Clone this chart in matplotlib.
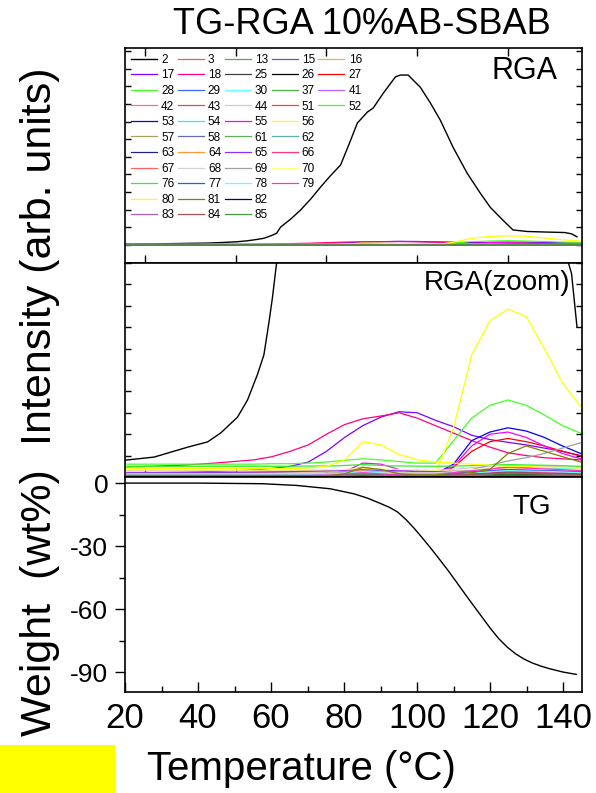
import matplotlib
matplotlib.use('Agg')
import matplotlib.pyplot as plt
from matplotlib.lines import Line2D
from matplotlib.patches import Rectangle
from matplotlib.ticker import MultipleLocator

plt.rcParams['font.family'] = ['Liberation Sans', 'DejaVu Sans']
plt.rcParams['axes.unicode_minus'] = False

# Legend order (mass numbers), row by row as in the original legend
legend_rows = [[2, 3, 13, 15, 16], [17, 18, 25, 26, 27], [28, 29, 30, 37, 41],
               [42, 43, 44, 51, 52], [53, 54, 55, 56], [57, 58, 61, 62],
               [63, 64, 65, 66], [67, 68, 69, 70], [76, 77, 78, 79],
               [80, 81, 82], [83, 84, 85]]

masses = [2, 3, 13, 15, 16, 17, 18, 25, 26, 27, 28, 29, 30, 37, 41, 42, 43, 44,
          51, 52, 53, 54, 55, 56, 57, 58, 61, 62, 63, 64, 65, 66, 67, 68, 69, 70,
          76, 77, 78, 79, 80, 81, 82, 83, 84, 85]
colors = ['#000000', '#f05a5a', '#4caf4c', '#5a5ac8', '#f5a85a', '#8000ff',
          '#ff0080', '#404040', '#000000', '#ff0000', '#44ff22', '#4060ff',
          '#66ffff', '#4caf4c', '#b066ff', '#ff6699', '#f04848', '#cccccc',
          '#ff4040', '#33ff33', '#0000ff', '#00ffff', '#ff00ff', '#ffff00',
          '#a8a060', '#6a6ab4', '#5cb05c', '#5cb0b0', '#202090', '#ff9933',
          '#8833ff', '#ff3380', '#ff6060', '#d4d4d4', '#a0a0a0', '#ffff80',
          '#33ee33', '#3355ff', '#66ffff', '#ff33cc', '#ffff00', '#808000',
          '#000080', '#b060c0', '#b05050', '#40a040']

# RGA: mass 2 (time axis, min)
t_h2 = [-4.2, 2.0, 9.5, 13.8, 16.7, 20.4, 22.6, 24.8, 26.2, 27.3, 28.1, 29.0,
        29.9, 32.1, 34.3, 36.5, 38.7, 40.9, 43.1, 45.0, 46.8, 49.0, 50.3, 52.5,
        55.2, 56.3, 58.0, 60.7, 62.9, 65.1, 67.9, 71.0, 73.9, 76.1, 78.9, 81.1,
        84.2, 88.6, 92.5, 94.0, 95.2]
m2 = [0.79, 0.93, 1.40, 1.64, 2.06, 2.8, 3.6, 4.8, 5.7, 7.2, 8.4, 10.0,
      15.3, 22, 29.8, 39, 49.3, 59, 68, 86, 103.7, 113, 116.5, 129,
      143, 144.5, 144.5, 134, 120.7, 106, 83, 61, 44, 32, 21, 12.8,
      11.5, 11, 10.6, 9.5, 7.0]

# main fragments on a 4 min grid
t_f = [-4, 0, 4, 8, 12, 16, 20, 24, 28, 32, 36, 40, 44, 48, 52, 56, 60, 64,
       68, 72, 76, 80, 84, 88, 92, 96]
m17 = [0.19, 0.2, 0.21, 0.22, 0.24, 0.27, 0.3, 0.33, 0.4, 0.5, 0.7, 1.2, 1.85,
       2.4, 2.8, 3.05, 3.0, 2.65, 2.35, 1.95, 1.75, 1.62, 1.5, 1.35, 1.2, 1.0]
m18 = [0.47, 0.49, 0.52, 0.55, 0.6, 0.66, 0.73, 0.8, 0.95, 1.2, 1.5, 2.0, 2.45,
       2.72, 2.85, 3.0, 2.75, 2.4, 2.05, 1.7, 1.4, 1.13, 1.0, 0.9, 0.85, 0.8]
m27 = [0.08, 0.08, 0.08, 0.08, 0.08, 0.08, 0.08, 0.08, 0.08, 0.09, 0.1, 0.1,
       0.12, 0.15, 0.12, 0.1, 0.1, 0.1, 0.45, 1.2, 1.65, 1.8, 1.65, 1.45, 1.2, 0.98]
m28 = [0.6, 0.6, 0.6, 0.6, 0.6, 0.6, 0.6, 0.6, 0.62, 0.62, 0.65, 0.7, 0.78,
       0.85, 0.8, 0.72, 0.65, 0.65, 1.7, 2.75, 3.35, 3.6, 3.35, 2.9, 2.4, 2.05]
m53 = [0.1, 0.1, 0.1, 0.1, 0.1, 0.1, 0.1, 0.1, 0.1, 0.1, 0.1, 0.1, 0.12,
       0.15, 0.12, 0.1, 0.1, 0.15, 0.6, 1.7, 2.1, 2.3, 2.15, 1.85, 1.45, 1.1]
m55 = [0.1, 0.1, 0.1, 0.1, 0.1, 0.1, 0.1, 0.1, 0.1, 0.1, 0.1, 0.12, 0.25,
       0.65, 0.6, 0.35, 0.22, 0.2, 0.5, 1.45, 2.0, 2.1, 1.85, 1.45, 1.1, 0.85]
m56 = [0.12, 0.12, 0.12, 0.12, 0.12, 0.12, 0.12, 0.12, 0.12, 0.12, 0.12, 0.12,
       0.12, 0.12, 0.12, 0.12, 0.12, 0.15, 2.3, 5.7, 7.3, 7.85, 7.5, 6.0, 4.4, 3.3]
m69 = [0.1, 0.1, 0.1, 0.1, 0.1, 0.1, 0.1, 0.1, 0.1, 0.1, 0.1, 0.1, 0.1,
       0.12, 0.1, 0.1, 0.1, 0.12, 0.2, 0.35, 0.55, 0.75, 0.9, 1.1, 1.35, 1.6]
m80 = [0.4, 0.4, 0.4, 0.4, 0.4, 0.4, 0.4, 0.4, 0.4, 0.4, 0.42, 0.5, 0.8,
       1.65, 1.5, 1.05, 0.8, 0.7, 0.65, 0.6, 0.55, 0.5, 0.5, 0.45, 0.45, 0.42]
m81 = [0.05, 0.05, 0.05, 0.05, 0.05, 0.05, 0.05, 0.05, 0.05, 0.05, 0.05, 0.05,
       0.15, 0.45, 0.35, 0.15, 0.1, 0.1, 0.15, 0.2, 0.35, 1.1, 1.45, 1.2, 0.95, 0.7]

# minor fragments on a coarse grid
t_c = [-4, 10, 30, 42, 48, 54, 64, 70, 80, 90, 96]
minor_masses = [3, 13, 15, 16, 25, 26, 29, 30, 37, 41, 42, 43, 44, 51, 52, 54,
                57, 58, 61, 62, 63, 64, 65, 66, 67, 68, 70, 76, 77, 78, 79, 82,
                83, 84, 85]
minor_vals = [
    [0.15, 0.15, 0.16, 0.18, 0.22, 0.18, 0.15, 0.25, 0.35, 0.3, 0.25],
    [0.05, 0.05, 0.05, 0.07, 0.12, 0.08, 0.06, 0.08, 0.12, 0.1, 0.08],
    [0.08, 0.08, 0.1, 0.14, 0.22, 0.14, 0.1, 0.15, 0.25, 0.2, 0.18],
    [0.14, 0.14, 0.2, 0.28, 0.32, 0.24, 0.2, 0.22, 0.3, 0.26, 0.22],
    [0.03, 0.03, 0.03, 0.04, 0.06, 0.04, 0.03, 0.05, 0.08, 0.06, 0.05],
    [0.04, 0.04, 0.04, 0.05, 0.08, 0.05, 0.04, 0.07, 0.12, 0.1, 0.08],
    [0.1, 0.1, 0.1, 0.12, 0.16, 0.12, 0.12, 0.28, 0.45, 0.36, 0.3],
    [0.06, 0.06, 0.08, 0.14, 0.35, 0.18, 0.1, 0.2, 0.38, 0.3, 0.25],
    [0.05, 0.05, 0.05, 0.1, 0.2, 0.12, 0.06, 0.1, 0.2, 0.15, 0.12],
    [0.3, 0.3, 0.3, 0.33, 0.38, 0.34, 0.3, 0.3, 0.35, 0.32, 0.3],
    [0.12, 0.12, 0.12, 0.14, 0.18, 0.15, 0.12, 0.2, 0.3, 0.25, 0.2],
    [0.06, 0.06, 0.06, 0.08, 0.12, 0.08, 0.06, 0.12, 0.2, 0.16, 0.12],
    [0.22, 0.22, 0.22, 0.25, 0.3, 0.28, 0.3, 0.4, 0.55, 0.5, 0.45],
    [0.05, 0.05, 0.05, 0.06, 0.1, 0.07, 0.06, 0.1, 0.18, 0.14, 0.1],
    [0.1, 0.1, 0.1, 0.12, 0.18, 0.12, 0.1, 0.15, 0.25, 0.2, 0.16],
    [0.05, 0.05, 0.05, 0.15, 0.42, 0.2, 0.08, 0.15, 0.45, 0.4, 0.35],
    [0.05, 0.05, 0.08, 0.2, 0.45, 0.25, 0.1, 0.15, 0.3, 0.25, 0.2],
    [0.04, 0.04, 0.05, 0.08, 0.15, 0.1, 0.06, 0.1, 0.2, 0.16, 0.12],
    [0.04, 0.04, 0.05, 0.1, 0.25, 0.12, 0.06, 0.1, 0.2, 0.15, 0.12],
    [0.05, 0.05, 0.05, 0.08, 0.14, 0.1, 0.06, 0.12, 0.22, 0.18, 0.14],
    [0.03, 0.03, 0.04, 0.06, 0.1, 0.06, 0.05, 0.1, 0.25, 0.2, 0.15],
    [0.12, 0.12, 0.25, 0.3, 0.28, 0.2, 0.15, 0.15, 0.2, 0.18, 0.15],
    [0.2, 0.2, 0.24, 0.3, 0.35, 0.3, 0.25, 0.25, 0.3, 0.26, 0.24],
    [0.1, 0.1, 0.1, 0.12, 0.16, 0.12, 0.1, 0.16, 0.25, 0.2, 0.16],
    [0.08, 0.08, 0.08, 0.1, 0.14, 0.1, 0.08, 0.14, 0.22, 0.18, 0.14],
    [0.15, 0.15, 0.16, 0.18, 0.22, 0.2, 0.2, 0.28, 0.4, 0.36, 0.32],
    [0.32, 0.32, 0.32, 0.34, 0.4, 0.36, 0.32, 0.34, 0.4, 0.36, 0.34],
    [0.5, 0.5, 0.5, 0.52, 0.58, 0.52, 0.5, 0.52, 0.58, 0.54, 0.5],
    [0.06, 0.06, 0.06, 0.08, 0.12, 0.08, 0.08, 0.2, 0.35, 0.28, 0.22],
    [0.08, 0.08, 0.08, 0.12, 0.25, 0.14, 0.1, 0.16, 0.3, 0.25, 0.2],
    [0.06, 0.06, 0.06, 0.1, 0.2, 0.12, 0.08, 0.25, 0.45, 0.36, 0.3],
    [0.02, 0.02, 0.03, 0.05, 0.08, 0.05, 0.05, 0.1, 0.2, 0.15, 0.12],
    [0.05, 0.05, 0.05, 0.07, 0.12, 0.08, 0.06, 0.1, 0.18, 0.14, 0.1],
    [0.04, 0.04, 0.04, 0.06, 0.1, 0.07, 0.05, 0.1, 0.2, 0.16, 0.12],
    [0.03, 0.03, 0.03, 0.05, 0.1, 0.05, 0.04, 0.06, 0.1, 0.08, 0.06],
]

# TG
temp_tg = [20, 40, 57.6, 66.9, 76.2, 82.7, 86.5, 90.1, 92.5, 94.7, 97.0, 99.3,
           101.5, 103.9, 106.2, 108.5, 110.8, 113.1, 115.5, 117.8, 120.1, 122.4,
           124.7, 127.0, 129.3, 131.6, 134.0, 136.3, 140.0, 143.6]
weight_tg = [0, 0, -0.3, -1.1, -2.7, -5.1, -7.2, -9.8, -11.6, -13.8, -17.4,
             -21.7, -26.2, -31.3, -36.4, -41.6, -47.1, -52.7, -58.4, -63.8,
             -69.2, -74.1, -78.1, -81.3, -83.8, -85.7, -87.2, -88.4, -90.0, -91.1]

series = {2: (t_h2, m2), 17: (t_f, m17), 18: (t_f, m18), 27: (t_f, m27),
          28: (t_f, m28), 53: (t_f, m53), 55: (t_f, m55), 56: (t_f, m56),
          69: (t_f, m69), 80: (t_f, m80), 81: (t_f, m81)}
for m, v in zip(minor_masses, minor_vals):
    series[m] = (t_c, v)

W, H = 596, 793
fig = plt.figure(figsize=(W / 100, H / 100), dpi=100)
left, width = 125 / W, 457 / W
ax1 = fig.add_axes([left, 1 - 263 / H, width, 215 / H])
ax2 = fig.add_axes([left, 1 - 477 / H, width, 214 / H], sharex=ax1)
ax3 = fig.add_axes([left, 1 - 692 / H, width, 215 / H])

handles = {}
for m, c in zip(masses, colors):
    t, v = series[m]
    lw = 1.0 if m == 2 else 0.9
    h, = ax1.plot(t, v, color=c, lw=lw, label=str(m))
    ax2.plot(t, v, color=c, lw=lw)
    handles[m] = h

ax1.set_xlim(-4.4, 96.3)
ax1.set_ylim(-15.3, 167.5)
ax2.set_ylim(0, 10)

for ax in (ax1, ax2):
    ax.xaxis.set_major_locator(MultipleLocator(20))
    ax.tick_params(axis='x', direction='in', length=6, width=1,
                   labelbottom=False, top=(ax is ax1))
    ax.tick_params(axis='y', direction='in', length=4, width=1,
                   labelleft=False, right=True)
    for s in ax.spines.values():
        s.set_linewidth(1.2)
ax1.yaxis.set_major_locator(MultipleLocator(15))
ax2.yaxis.set_major_locator(MultipleLocator(1))

# legend laid out row by row
nrow, ncol = len(legend_rows), 5
blank = Line2D([], [], color='none')
leg_h, leg_l = [], []
for j in range(ncol):
    for row in legend_rows:
        if j < len(row):
            leg_h.append(handles[row[j]])
            leg_l.append(str(row[j]))
        else:
            leg_h.append(blank)
            leg_l.append('')
ax1.legend(leg_h, leg_l, ncol=ncol, loc='upper left', bbox_to_anchor=(0.0, 1.0),
           frameon=False, fontsize=8.5, handlelength=2.2, handletextpad=0.35,
           columnspacing=0.3, labelspacing=0.3, borderaxespad=0.1,
           borderpad=0.4)

ax1.text(525 / W, 1 - 71 / H, 'RGA', transform=fig.transFigure, fontsize=22,
         ha='center', va='center')
ax2.text(570 / W, 1 - 283 / H, 'RGA(zoom)', transform=fig.transFigure,
         fontsize=20, ha='right', va='center')
ax3.text(532 / W, 1 - 507 / H, 'TG', transform=fig.transFigure, fontsize=20,
         ha='center', va='center')

# TG panel
ax3.plot(temp_tg, weight_tg, color='black', lw=1.0)
ax3.set_xlim(20, 145.2)
ax3.set_ylim(-99.5, 2.9)
ax3.set_xticks([20, 40, 60, 80, 100, 120, 140])
ax3.xaxis.set_minor_locator(MultipleLocator(10))
ax3.set_yticks([0, -30, -60, -90])
ax3.yaxis.set_minor_locator(MultipleLocator(15))
ax3.tick_params(axis='x', which='both', direction='in', labelsize=25, pad=7)
ax3.tick_params(axis='x', which='major', length=7, width=1)
ax3.tick_params(axis='x', which='minor', length=4, width=1)
ax3.tick_params(axis='y', which='both', direction='out', labelsize=19, pad=5)
ax3.tick_params(axis='y', which='major', length=7, width=1)
ax3.tick_params(axis='y', which='minor', length=4, width=1)
for s in ax3.spines.values():
    s.set_linewidth(1.2)

fig.text(362 / W, 1 - 25 / H, 'TG-RGA 10%AB-SBAB', fontsize=26,
         ha='center', va='center')
fig.text(40 / W, 1 - 256 / H, 'Intensity (arb. units)', fontsize=31,
         rotation=90, ha='center', va='center')
fig.text(40 / W, 1 - 603 / H, 'Weight  (wt%)', fontsize=31,
         rotation=90, ha='center', va='center')
fig.text(301 / W, 1 - 769 / H, 'Temperature (°C)', fontsize=29,
         ha='center', va='center')

fig.patches.append(Rectangle((0, 0), 115 / W, 48 / H, transform=fig.transFigure,
                             facecolor='#ffff00', edgecolor='none'))

fig.savefig('out.png', dpi=100)
